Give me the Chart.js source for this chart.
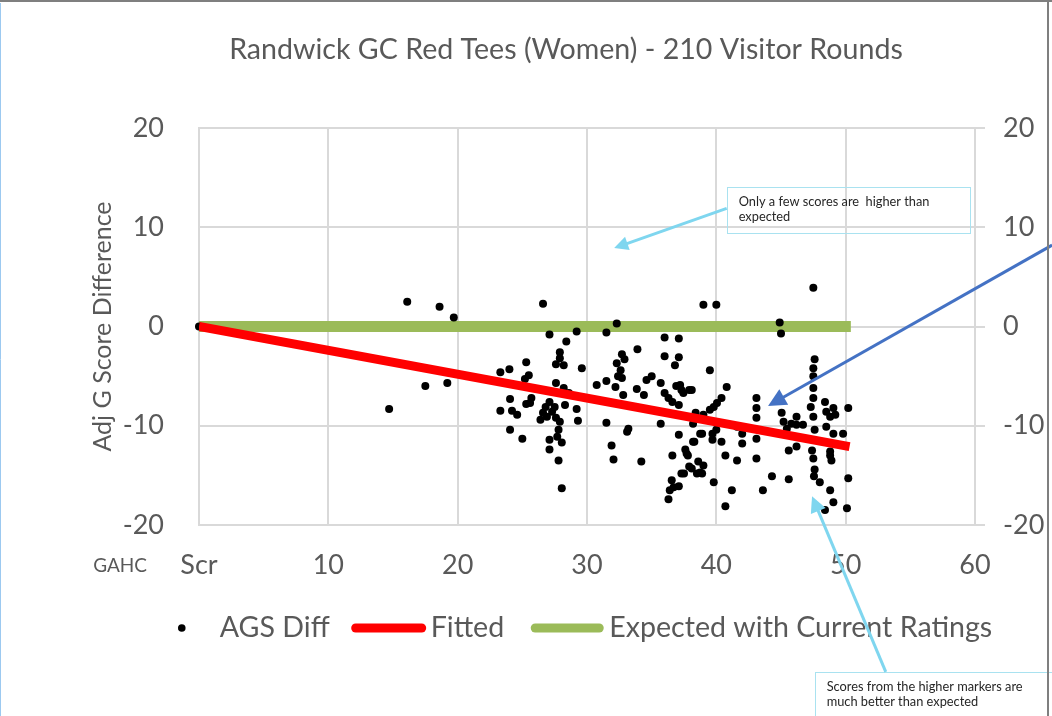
<!DOCTYPE html>
<html>
<head>
<meta charset="utf-8">
<script src="https://cdn.jsdelivr.net/npm/chart.js@4.4.1/dist/chart.umd.min.js"></script>
<style>
html,body{margin:0;padding:0;background:#fff;}
#wrap{width:1052px;height:716px;position:relative;}
canvas{display:block;}
</style>
</head>
<body>
<div id="wrap"><canvas id="c" width="1052" height="716"></canvas></div>
<script>
// ---------------- DATA ----------------
const chartTitle = 'Randwick GC Red Tees (Women) - 210 Visitor Rounds';
const yAxisTitle = 'Adj G Score Difference';
const xAxisLead = 'GAHC';
const xTickLabels = {0: 'Scr', 10: '10', 20: '20', 30: '30', 40: '40', 50: '50', 60: '60'};
const seriesNames = ['AGS Diff', 'Fitted', 'Expected with Current Ratings'];

// AGS Diff: [handicap, adjusted score difference]
const agsDiff = [
  [0,0],[14.7,-8.3],[16.1,2.5],[18.6,2.0],[19.7,0.9],[17.5,-6.0],[19.2,-5.7],
  [26.6,2.3],[27.1,-0.8],[29.2,-0.5],[28.4,-1.5],[27.9,-2.6],[27.9,-3.2],[27.6,-3.8],[28.2,-3.9],
  [25.3,-3.6],[24.0,-4.3],[23.3,-4.6],[25.5,-4.9],[25.2,-5.3],[29.6,-4.2],[27.6,-5.7],[28.2,-6.2],
  [28.6,-6.7],[24.05,-7.3],[25.7,-7.2],[25.6,-7.7],[25.3,-7.8],[23.3,-8.5],[24.2,-8.5],[24.6,-8.9],
  [26.6,-8.7],[26.9,-9.1],[27.3,-8.6],[27.5,-8.1],[28.3,-7.9],[26.8,-8.1],[27.1,-7.6],[29.2,-8.3],
  [29.3,-9.5],[27.9,-9.6],[24.05,-10.4],[25.0,-11.3],[27.8,-10.4],[27.7,-11.1],[27.1,-11.4],
  [28.05,-11.7],[27.1,-12.4],[27.8,-13.5],[28.05,-16.3],[26.4,-9.4],[27.6,-9.2],
  [31.5,-0.6],[32.3,0.3],[33.9,-2.3],[36.0,-1.1],[37.1,-1.2],[32.7,-2.8],[32.3,-3.7],[32.9,-3.3],
  [32.6,-4.4],[32.4,-5.0],[32.7,-5.2],[36.0,-3.0],[36.8,-3.9],[37.1,-3.1],[30.75,-5.9],[31.5,-5.5],
  [32.2,-6.1],[32.8,-6.9],[33.85,-6.3],[34.4,-6.9],[34.6,-5.4],[35.0,-5.0],[35.7,-5.7],[36.0,-6.7],
  [36.3,-7.2],[36.6,-7.6],[36.9,-6.0],[37.2,-5.9],[37.3,-6.4],[37.9,-6.4],[37.45,-6.7],[37.1,-7.9],
  [31.5,-9.7],[35.7,-9.8],[33.1,-10.6],[33.2,-10.3],[31.9,-12.0],[32.05,-13.4],[34.2,-13.6],
  [36.6,-13.0],[36.55,-15.5],[36.4,-16.5],[36.3,-17.4],[37.3,-14.8],[37.1,-16.1],[36.7,-16.2],
  [39.0,2.2],[40.0,2.2],[39.5,-4.4],[38.1,-6.4],[40.8,-6.1],[40.4,-7.2],[40.05,-7.7],[39.8,-8.1],
  [39.5,-8.4],[43.1,-7.2],[43.1,-8.2],[43.1,-9.2],[38.4,-8.7],[39.0,-8.9],[38.2,-9.8],[38.9,-10.8],
  [39.7,-10.8],[40.0,-10.4],[40.4,-11.6],[39.7,-11.4],[41.6,-10.1],[42.0,-10.8],[42.0,-11.8],
  [37.1,-10.9],[38.2,-11.6],[37.6,-12.4],[37.7,-12.8],[38.3,-11.6],[37.8,-13.0],[40.7,-13.0],
  [41.6,-13.5],[43.1,-11.3],[43.1,-13.3],[38.75,-10.8],[37.9,-14.1],[37.5,-14.8],[38.1,-14.3],
  [38.5,-14.8],[38.75,-14.7],[38.9,-14.8],[39.0,-14.0],[38.6,-13.6],[39.8,-15.7],[41.2,-16.5],
  [40.7,-18.1],[43.6,-16.5],[44.3,-15.1],
  [47.5,3.9],[44.9,0.4],[45.0,-0.7],[45.05,-8.7],[45.2,-9.6],[45.45,-10.3],[46.2,-9.1],[46.7,-9.9],
  [46.2,-9.9],[45.8,-9.8],[45.6,-12.5],[46.2,-12.1],[47.6,-3.3],[47.5,-4.2],[47.5,-5.0],[47.5,-6.2],
  [47.5,-7.2],[47.3,-8.1],[47.5,-9.1],[47.6,-10.4],[48.4,-7.6],[48.5,-8.6],[49.05,-8.2],[48.8,-9.1],
  [49.2,-8.9],[50.2,-8.2],[48.5,-10.1],[49.05,-10.8],[49.8,-10.8],[47.4,-12.5],[47.5,-13.3],
  [48.8,-12.6],[48.9,-13.5],[48.8,-13.0],[47.6,-14.4],[47.55,-15.1],[48.0,-15.7],[50.2,-15.3],
  [48.8,-16.5],[49.05,-17.7],[48.4,-18.5],[50.1,-18.3],[45.6,-15.4]
];
const fittedX = [0, 50.3];
const fittedY = [0, -12.1];
const expectedX = [0, 50.4];
const expectedY = [0, 0];

// Annotations (text + anchor positions in data units)
const note1Lines = ['Only a few scores are  higher than', 'expected'];
const note1Box = {x0: 40.8, y0: 14.1, x1: 59.6, y1: 9.5};
const note1Arrow = {from: [40.8, 11.9], to: [32.1, 7.9]};
const note2Lines = ['Scores from the higher markers are', 'much better than expected'];
const note2Box = {x0: 47.6, y0: -34.8, x1: 66.5, y1: -40};
const note2Arrow = {from: [53.1, -34.8], to: [47.4, -17.1]};
const blueArrow = {from: [65.96, 8.2], to: [44.0, -8.0]};

// ---------------- STYLE ----------------
const FONT = 'Lato, "Open Sans", sans-serif';
const TXT = '#595959';
const GRID = '#d9d9d9';

function drawArrow(ctx, x1, y1, x2, y2, color, head) {
  const dx = x2 - x1, dy = y2 - y1;
  const len = Math.hypot(dx, dy);
  const ux = dx / len, uy = dy / len;
  const nx = -uy, ny = ux;
  const bx = x2 - ux * head, by = y2 - uy * head;
  ctx.save();
  ctx.strokeStyle = color; ctx.fillStyle = color; ctx.lineWidth = 3; ctx.lineCap = 'butt';
  ctx.beginPath(); ctx.moveTo(x1, y1); ctx.lineTo(bx + ux * 2, by + uy * 2); ctx.stroke();
  ctx.beginPath(); ctx.moveTo(x2, y2);
  ctx.lineTo(bx + nx * head * 0.5, by + ny * head * 0.5);
  ctx.lineTo(bx - nx * head * 0.5, by - ny * head * 0.5);
  ctx.closePath(); ctx.fill();
  ctx.restore();
}

const decor = {
  id: 'decor',
  beforeDraw(chart) {
    const ctx = chart.ctx;
    ctx.save(); ctx.fillStyle = '#fff'; ctx.fillRect(0, 0, chart.width, chart.height); ctx.restore();
  },
  afterDraw(chart) {
    const ctx = chart.ctx;
    const xs = chart.scales.x, ys = chart.scales.y;
    const px = v => xs.getPixelForValue(v);
    const py = v => ys.getPixelForValue(v);
    const ca = chart.chartArea;
    ctx.save();

    // title
    ctx.fillStyle = TXT; ctx.font = '28.6px ' + FONT; ctx.textAlign = 'center'; ctx.textBaseline = 'middle';
    ctx.fillText(chartTitle, 566, 50);

    // GAHC lead label
    ctx.font = '19px ' + FONT; ctx.textAlign = 'right';
    ctx.fillText(xAxisLead, 147, 566);

    // legend
    const ds = chart.data.datasets;
    const agsDs = ds[1], fitDs = ds[0], expDs = ds[2];
    ctx.font = '28.6px ' + FONT; ctx.textAlign = 'left';
    const ly = 628;
    const wA = ctx.measureText(agsDs.label).width;
    const wF = ctx.measureText(fitDs.label).width;
    const wE = ctx.measureText(expDs.label).width;
    const total = 40 + wA + 24 + 74 + 5 + wF + 27 + 72 + 6 + wE;
    let lx = (ca.left + ca.right) / 2 - total / 2;
    ctx.fillStyle = agsDs.backgroundColor;
    ctx.beginPath(); ctx.arc(lx + 2, ly, 3.8, 0, Math.PI * 2); ctx.fill();
    lx += 40;
    ctx.fillStyle = TXT; ctx.fillText(agsDs.label, lx, ly); lx += wA + 22;
    ctx.lineCap = 'round';
    ctx.strokeStyle = fitDs.borderColor; ctx.lineWidth = 9;
    ctx.beginPath(); ctx.moveTo(lx + 4, ly); ctx.lineTo(lx + 70, ly); ctx.stroke();
    lx += 74 + 5;
    ctx.fillStyle = TXT; ctx.fillText(fitDs.label, lx, ly); lx += wF + 27;
    ctx.strokeStyle = expDs.borderColor; ctx.lineWidth = 9;
    ctx.beginPath(); ctx.moveTo(lx + 4, ly); ctx.lineTo(lx + 68, ly); ctx.stroke();
    lx += 72 + 6;
    ctx.fillStyle = TXT; ctx.fillText(expDs.label, lx, ly);
    ctx.lineCap = 'butt';

    // notes and arrows
    function note(box, lines) {
      const x0 = px(box.x0), y0 = py(box.y0), x1 = px(box.x1), y1 = py(box.y1);
      ctx.strokeStyle = '#a9e2f0'; ctx.lineWidth = 1;
      ctx.strokeRect(Math.round(x0) + 0.5, Math.round(y0) + 0.5, Math.round(x1 - x0), Math.round(y1 - y0));
      ctx.fillStyle = '#262626'; ctx.font = '12.8px ' + FONT;
      ctx.textAlign = 'left'; ctx.textBaseline = 'middle';
      lines.forEach((t, i) => ctx.fillText(t, x0 + 12, y0 + 15 + i * 15));
    }
    note(note1Box, note1Lines);
    drawArrow(ctx, px(note1Arrow.from[0]), py(note1Arrow.from[1]), px(note1Arrow.to[0]), py(note1Arrow.to[1]), '#7fd6ef', 14);
    note(note2Box, note2Lines);
    drawArrow(ctx, px(note2Arrow.from[0]), py(note2Arrow.from[1]), px(note2Arrow.to[0]), py(note2Arrow.to[1]), '#7fd6ef', 16);
    drawArrow(ctx, px(blueArrow.from[0]), py(blueArrow.from[1]), px(blueArrow.to[0]), py(blueArrow.to[1]), '#4472c4', 18);

    // frame
    ctx.strokeStyle = '#7f7f7f'; ctx.lineWidth = 2;
    ctx.beginPath(); ctx.moveTo(0, 1); ctx.lineTo(chart.width, 1); ctx.stroke();
    ctx.beginPath(); ctx.moveTo(1048, 0); ctx.lineTo(1048, chart.height); ctx.stroke();
    ctx.strokeStyle = '#9cc9f0'; ctx.lineWidth = 1;
    ctx.beginPath(); ctx.moveTo(0.5, 3); ctx.lineTo(0.5, chart.height); ctx.stroke();
    ctx.restore();
  }
};

const tickFont = {family: FONT, size: 27};

new Chart(document.getElementById('c'), {
  type: 'scatter',
  data: {
    datasets: [
      {label: seriesNames[1], type: 'line', data: fittedX.map((x, i) => ({x, y: fittedY[i]})),
       borderColor: '#ff0000', backgroundColor: '#ff0000', borderWidth: 9, pointRadius: 0, showLine: true, order: 0},
      {label: seriesNames[0], data: agsDiff.map(p => ({x: p[0], y: p[1]})),
       backgroundColor: '#000000', borderColor: '#000000', borderWidth: 0, pointRadius: 4, clip: 8, order: 1},
      {label: seriesNames[2], type: 'line', data: expectedX.map((x, i) => ({x, y: expectedY[i]})),
       borderColor: '#9bbb59', backgroundColor: '#9bbb59', borderWidth: 11, pointRadius: 0, showLine: true, order: 2}
    ]
  },
  options: {
    responsive: false,
    animation: false,
    layout: {padding: {top: 128, left: 0, right: 0, bottom: 0}},
    plugins: {legend: {display: false}, tooltip: {enabled: false}, title: {display: false}},
    scales: {
      x: {type: 'linear', position: 'bottom', min: 0, max: 60,
        afterFit: s => { s.height = 191; },
        ticks: {stepSize: 10, color: TXT, font: tickFont, padding: 24, maxRotation: 0,
                callback: v => (xTickLabels[v] !== undefined ? xTickLabels[v] : '')},
        grid: {color: GRID, lineWidth: 2, drawTicks: false}, border: {display: false}},
      y: {type: 'linear', position: 'left', min: -20, max: 20,
        afterFit: s => { s.width = 199; },
        ticks: {stepSize: 10, color: TXT, font: tickFont, padding: 35},
        grid: {color: GRID, lineWidth: 2, drawTicks: false},
        border: {display: true, color: GRID, width: 2},
        title: {display: true, text: yAxisTitle, color: TXT, font: {family: FONT, size: 25}, padding: {top: 88, bottom: 0}}},
      y2: {type: 'linear', position: 'right', min: -20, max: 20,
        afterFit: s => { s.width = 77; },
        ticks: {stepSize: 10, color: TXT, font: tickFont, padding: 18},
        grid: {color: GRID, lineWidth: 2, drawOnChartArea: false, drawTicks: true, tickLength: 10},
        border: {display: true, color: GRID, width: 2}}
    }
  },
  plugins: [decor]
});
</script>
</body>
</html>
